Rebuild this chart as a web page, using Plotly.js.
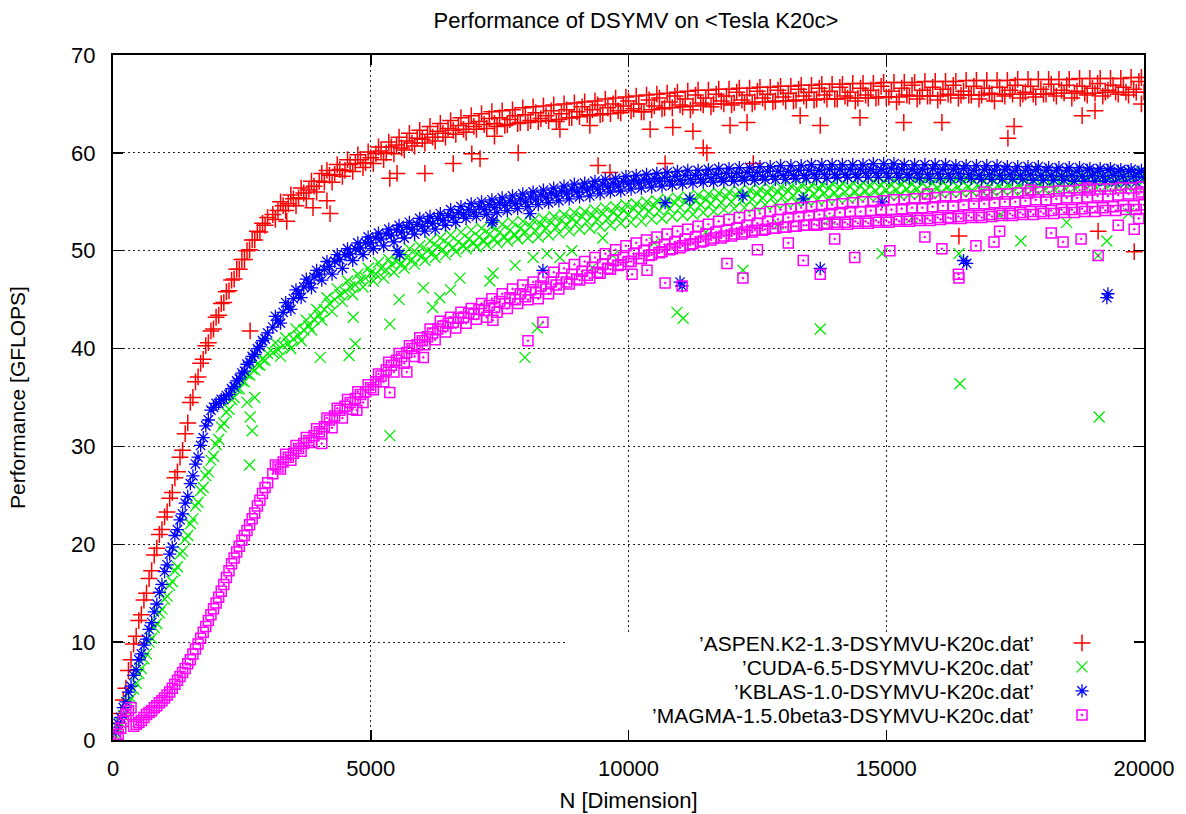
<!DOCTYPE html>
<html>
<head>
<meta charset="utf-8">
<script src="https://cdn.plot.ly/plotly-3.0.1.min.js"></script>
<style>html,body{margin:0;padding:0;background:#fff;}#chart{width:1186px;height:814px;}</style>
</head>
<body>
<div id="chart"></div>
<script>
// Matrix dimension N (first sample grid)
const N = [
  50,100,150,200,250,300,350,400,450,500,
  550,600,650,700,750,800,850,900,950,1000,
  1050,1100,1150,1200,1250,1300,1350,1400,1450,1500,
  1550,1600,1650,1700,1750,1800,1850,1900,1950,2000,
  2050,2100,2150,2200,2250,2300,2350,2400,2450,2500,
  2550,2600,2650,2700,2750,2800,2850,2900,2950,3000,
  3100,3200,3300,3400,3500,3600,3700,3800,3900,4000,
  4100,4200,4300,4400,4500,4600,4700,4800,4900,5000,
  5100,5200,5300,5400,5500,5600,5700,5800,5900,6000,
  6100,6200,6300,6400,6500,6600,6700,6800,6900,7000,
  7100,7200,7300,7400,7500,7600,7700,7800,7900,8000,
  8100,8200,8300,8400,8500,8600,8700,8800,8900,9000,
  9100,9200,9300,9400,9500,9600,9700,9800,9900,10000,
  10100,10200,10300,10400,10500,10600,10700,10800,10900,11000,
  11100,11200,11300,11400,11500,11600,11700,11800,11900,12000,
  12100,12200,12300,12400,12500,12600,12700,12800,12900,13000,
  13100,13200,13300,13400,13500,13600,13700,13800,13900,14000,
  14100,14200,14300,14400,14500,14600,14700,14800,14900,15000,
  15100,15200,15300,15400,15500,15600,15700,15800,15900,16000,
  16100,16200,16300,16400,16500,16600,16700,16800,16900,17000,
  17100,17200,17300,17400,17500,17600,17700,17800,17900,18000,
  18100,18200,18300,18400,18500,18600,18700,18800,18900,19000,
  19100,19200,19300,19400,19500,19600,19700,19800,19900,20000
];
// Second, interleaved sample grid
const N2 = [
  3150,3250,3350,3450,3550,3650,3750,3850,3950,4050,
  4150,4250,4350,4450,4550,4650,4750,4850,4950,5050,
  5150,5250,5350,5450,5550,5650,5750,5850,5950,6050,
  6150,6250,6350,6450,6550,6650,6750,6850,6950,7050,
  7150,7250,7350,7450,7550,7650,7750,7850,7950,8050,
  8150,8250,8350,8450,8550,8650,8750,8850,8950,9050,
  9150,9250,9350,9450,9550,9650,9750,9850,9950,10050,
  10150,10250,10350,10450,10550,10650,10750,10850,10950,11050,
  11150,11250,11350,11450,11550,11650,11750,11850,11950,12050,
  12150,12250,12350,12450,12550,12650,12750,12850,12950,13050,
  13150,13250,13350,13450,13550,13650,13750,13850,13950,14050,
  14150,14250,14350,14450,14550,14650,14750,14850,14950,15050,
  15150,15250,15350,15450,15550,15650,15750,15850,15950,16050,
  16150,16250,16350,16450,16550,16650,16750,16850,16950,17050,
  17150,17250,17350,17450,17550,17650,17750,17850,17950,18050,
  18150,18250,18350,18450,18550,18650,18750,18850,18950,19050,
  19150,19250,19350,19450,19550,19650,19750,19850,19950
];

// GFLOPS per series at N
const aspen = [
  0.8,1.7,2.7,4.1,5.3,7.1,8.2,9.8,10.6,12.2,
  12.8,14.3,15.0,16.5,17.3,18.9,19.6,21.0,21.5,22.8,
  23.3,24.7,25.3,26.8,27.4,28.9,29.6,31.3,32.4,34.5,
  35.0,36.6,37.1,38.5,38.9,40.3,40.6,41.8,42.0,43.2,
  43.4,44.6,44.7,45.8,45.9,47.0,47.1,48.1,48.1,49.1,
  49.1,50.0,50.1,51.1,51.1,52.0,51.9,52.8,52.6,53.4,
  53.7,54.1,54.6,54.8,55.3,55.4,55.9,56.2,56.6,57.1,
  57.0,57.7,57.8,58.3,58.2,58.8,58.9,59.3,59.0,59.5,
  59.9,60.2,60.0,60.6,60.8,60.5,61.2,61.0,61.5,61.4,
  61.9,61.6,62.2,62.0,62.5,62.3,62.8,62.4,63.0,62.7,
  63.2,62.9,63.5,63.0,63.6,62.8,63.4,63.8,63.1,63.9,
  63.3,64.1,63.5,63.8,64.3,63.2,64.0,64.4,63.6,64.2,
  64.7,63.9,64.4,64.9,64.0,64.6,65.0,64.3,64.8,65.3,
  64.5,65.0,64.2,65.4,64.8,65.6,64.6,65.2,65.8,64.9,
  65.5,64.4,65.9,65.1,65.6,64.7,66.0,65.3,65.8,64.9,
  66.2,65.4,65.9,65.0,66.3,65.6,66.0,65.2,66.4,65.7,
  66.1,65.3,66.5,65.8,66.2,65.4,66.6,65.9,66.3,65.5,
  66.7,65.8,66.2,65.3,66.6,65.9,66.4,65.6,66.8,65.7,
  66.3,65.2,66.6,65.9,66.9,65.5,66.4,65.8,66.7,65.4,
  66.5,66.0,66.9,65.6,66.3,65.9,66.8,65.5,66.6,66.1,
  65.3,66.7,65.8,66.4,66.9,65.6,66.2,66.8,65.7,66.5,
  66.0,67.0,65.8,66.4,66.9,65.6,66.3,66.8,65.9,66.6,
  67.1,65.8,66.4,66.9,66.0,66.7,65.9,66.5,67.3,66.2
];
const aspen2 = [
  53.2,55.0,54.1,55.7,54.6,56.4,55.3,57.1,56.0,57.9,
  58.2,57.0,58.8,57.6,59.3,58.1,59.8,58.5,60.1,58.9,
  60.6,59.3,61.1,59.9,61.6,60.3,62.0,60.7,62.3,61.0,
  62.7,61.2,63.0,61.6,63.3,61.9,63.6,62.1,63.8,62.4,
  64.0,62.5,64.2,62.7,64.3,62.9,64.4,63.0,64.6,63.1,
  64.7,63.2,64.8,63.3,64.9,63.4,65.0,63.6,65.1,63.7,
  65.2,63.8,65.3,63.9,65.5,64.0,65.6,64.1,65.7,64.3,
  65.8,64.2,65.9,64.4,66.0,64.5,66.1,64.6,66.2,64.7,
  66.3,64.8,66.4,64.9,66.4,65.0,66.5,65.0,66.5,65.1,
  66.6,65.1,66.6,65.2,66.7,65.2,66.7,65.3,66.8,65.3,
  66.8,65.4,66.9,65.4,66.9,65.5,67.0,65.5,67.0,65.5,
  67.0,65.6,67.1,65.6,67.1,65.6,67.1,65.7,67.2,65.7,
  67.2,65.7,67.2,65.8,67.2,65.8,67.3,65.8,67.3,65.8,
  67.3,65.9,67.3,65.9,67.4,65.9,67.4,65.9,67.4,66.0,
  67.4,66.0,67.4,66.0,67.5,66.0,67.5,66.0,67.5,66.0,
  67.5,66.1,67.5,66.1,67.5,66.1,67.6,66.1,67.6,66.1,
  67.6,66.2,67.6,66.2,67.6,66.2,67.7,66.2,67.7
];
const cuda = [
  0.5,1.2,1.7,2.5,3.0,3.9,4.3,5.2,5.8,6.8,
  7.3,8.3,8.8,10.0,10.4,11.5,11.9,13.0,13.4,14.4,
  14.7,15.8,16.2,17.3,17.7,19.0,19.3,20.5,20.9,22.1,
  22.6,23.9,24.3,25.5,25.8,27.0,27.4,28.6,29.0,30.2,
  30.7,32.0,32.4,33.5,33.8,34.8,35.0,35.9,35.9,36.7,
  36.6,37.4,37.3,37.9,37.8,38.4,38.3,38.9,38.8,39.5,
  39.6,39.9,40.3,40.5,41.0,41.3,41.9,42.3,43.0,43.4,
  44.0,44.6,45.0,45.5,45.8,46.3,46.5,47.0,47.2,47.7,
  47.6,48.2,48.0,48.6,48.9,48.7,49.3,49.1,49.7,49.5,
  50.0,49.8,50.4,50.1,50.7,50.3,50.9,50.5,51.2,50.8,
  51.4,51.0,51.7,51.2,51.9,51.4,52.1,51.6,52.3,51.9,
  52.5,52.0,52.7,52.3,52.9,52.4,53.1,52.6,53.3,52.9,
  53.5,53.0,53.6,53.2,53.8,53.3,53.9,53.5,54.1,53.7,
  54.3,53.8,54.4,54.0,54.6,54.1,54.7,54.3,54.9,54.4,
  55.0,54.5,55.1,54.7,55.2,54.8,55.4,54.9,55.5,55.0,
  55.6,55.1,55.7,55.3,55.8,55.4,55.9,55.5,56.0,55.6,
  56.1,55.6,56.2,55.7,56.3,55.8,56.3,55.9,56.4,55.9,
  56.5,56.0,56.5,56.0,56.6,56.1,56.6,56.1,56.7,56.2,
  56.7,56.2,56.8,56.3,56.8,56.3,56.9,56.4,56.9,56.4,
  57.0,56.5,57.0,56.5,57.0,56.5,57.1,56.6,57.1,56.6,
  57.1,56.6,57.2,56.7,57.2,56.7,57.2,56.7,57.3,56.8,
  57.3,56.8,57.3,56.8,57.4,56.9,57.4,56.9,57.4,56.9,
  57.5,57.0,57.5,57.0,57.5,57.0,57.6,57.1,57.6,57.2
];
const cuda2 = [
  40.6,39.2,41.1,40.0,42.0,40.8,42.9,41.9,44.0,42.9,
  45.2,43.8,46.1,44.8,46.9,45.5,47.6,46.3,48.2,46.9,
  48.8,47.2,49.1,47.8,49.7,48.2,50.2,48.6,50.5,49.0,
  51.0,49.3,51.3,49.6,51.6,49.9,51.9,50.2,52.1,50.4,
  52.3,50.6,52.5,50.8,52.7,51.0,52.9,51.2,53.0,51.3,
  53.1,51.4,53.3,51.6,53.5,51.8,53.7,52.0,53.9,52.2,
  54.0,52.3,54.2,52.5,54.4,52.6,54.5,52.8,54.7,52.9,
  54.8,53.0,55.0,53.2,55.1,53.3,55.3,53.5,55.4,53.6,
  55.5,53.7,55.7,53.9,55.8,54.0,55.9,54.2,56.0,54.3,
  56.1,54.4,56.2,54.5,56.3,54.7,56.4,54.8,56.5,54.9,
  56.6,55.0,56.7,55.1,56.7,55.2,56.8,55.3,56.9,55.4,
  56.9,55.4,57.0,55.5,57.0,55.6,57.1,55.6,57.1,55.7,
  57.2,55.7,57.2,55.8,57.3,55.8,57.3,55.9,57.3,55.9,
  57.4,56.0,57.4,56.0,57.4,56.1,57.5,56.1,57.5,56.1,
  57.5,56.2,57.6,56.2,57.6,56.2,57.6,56.3,57.6,56.3,
  57.7,56.3,57.7,56.4,57.7,56.4,57.8,56.4,57.8,56.5,
  57.8,56.5,57.9,56.5,57.9,56.6,57.9,56.6,58.0
];
const kblas = [
  0.8,1.7,2.3,3.3,3.9,4.9,5.5,6.6,7.2,8.2,
  8.8,9.7,10.3,11.3,12.0,13.1,13.9,15.1,15.9,17.2,
  17.9,19.0,19.7,20.9,21.5,22.5,23.1,24.2,24.9,26.2,
  27.0,28.2,28.9,30.1,30.9,32.1,32.7,33.7,34.0,34.4,
  34.4,34.8,34.8,35.2,35.3,35.9,36.1,36.7,36.9,37.5,
  37.7,38.4,38.6,39.2,39.4,40.0,40.2,40.8,41.0,41.6,
  42.2,42.9,43.7,44.3,45.1,45.6,46.3,46.7,47.3,47.6,
  48.1,48.4,48.9,49.1,49.6,49.7,50.2,50.3,50.8,50.8,
  51.3,51.2,51.7,51.6,52.1,51.9,52.4,52.2,52.7,52.5,
  53.0,52.8,53.3,53.1,53.6,53.4,53.9,53.7,54.2,53.9,
  54.5,54.2,54.7,54.4,54.9,54.6,55.1,54.8,55.3,55.0,
  55.5,55.2,55.7,55.4,55.9,55.6,56.1,55.8,56.3,56.0,
  56.5,56.2,56.6,56.3,56.8,56.5,56.9,56.6,57.1,56.8,
  57.2,56.9,57.3,57.0,57.4,57.1,57.5,57.1,57.6,57.2,
  57.7,57.3,57.7,57.3,57.8,57.4,57.8,57.4,57.9,57.5,
  57.9,57.5,58.0,57.6,58.0,57.6,58.1,57.6,58.1,57.7,
  58.1,57.7,58.2,57.7,58.2,57.8,58.2,57.8,58.3,57.8,
  58.3,57.8,58.3,57.8,58.3,57.9,58.3,57.9,58.3,57.9,
  58.4,57.9,58.3,57.8,58.3,57.9,58.3,57.8,58.4,57.9,
  58.3,57.8,58.3,57.9,58.4,57.8,58.2,57.7,58.3,57.8,
  58.2,57.7,58.3,57.8,58.2,57.7,58.2,57.8,58.3,57.7,
  58.2,57.7,58.2,57.6,58.2,57.7,58.1,57.6,58.2,57.7,
  58.1,57.6,58.2,57.7,58.1,57.6,58.1,57.6,58.0,57.5
];
const kblas2 = [
  43.3,42.6,44.7,44.0,46.0,45.2,47.1,46.2,48.0,47.0,
  48.9,47.6,49.6,48.2,50.2,49.0,50.8,49.6,51.4,50.2,
  51.8,50.5,52.2,50.9,52.6,51.3,52.9,51.7,53.3,52.0,
  53.5,52.2,53.8,52.6,54.2,52.9,54.5,53.3,54.8,53.5,
  55.0,53.7,55.2,53.9,55.4,54.1,55.6,54.3,55.8,54.5,
  56.0,54.7,56.2,54.9,56.4,55.1,56.6,55.3,56.8,55.5,
  56.9,55.6,57.1,55.8,57.3,56.0,57.4,56.1,57.6,56.3,
  57.7,56.4,57.8,56.5,57.9,56.6,58.0,56.7,58.1,56.8,
  58.2,56.9,58.2,57.0,58.3,57.0,58.4,57.1,58.4,57.1,
  58.5,57.2,58.5,57.2,58.6,57.3,58.6,57.3,58.7,57.3,
  58.7,57.4,58.7,57.4,58.8,57.4,58.8,57.4,58.8,57.5,
  58.8,57.5,58.8,57.5,58.8,57.5,58.9,57.5,58.9,57.5,
  58.9,57.5,58.8,57.5,58.8,57.4,58.8,57.4,58.8,57.4,
  58.8,57.4,58.7,57.4,58.7,57.4,58.7,57.3,58.7,57.3,
  58.7,57.3,58.6,57.3,58.6,57.3,58.6,57.2,58.6,57.2,
  58.5,57.2,58.5,57.2,58.5,57.1,58.5,57.1,58.4,57.1,
  58.4,57.1,58.4,57.0,58.3,57.0,58.3,57.0,58.2
];
const magma = [
  0.3,0.6,1.2,1.9,2.6,3.0,3.3,1.4,1.6,1.8,
  2.0,2.3,2.6,2.8,3.0,3.3,3.5,3.8,4.0,4.3,
  4.6,4.9,5.3,5.7,6.1,6.5,6.9,7.3,7.8,8.2,
  8.8,9.3,9.8,10.4,11.0,11.6,12.2,12.8,13.4,14.0,
  14.6,15.2,15.9,16.6,17.3,18.0,18.6,19.2,19.8,20.4,
  20.9,21.4,22.0,22.6,23.2,23.9,24.5,25.2,25.8,26.3,
  27.2,27.9,28.4,28.9,29.3,29.8,30.3,30.6,31.1,31.5,
  32.0,32.7,33.1,33.7,34.1,34.5,34.9,35.3,35.6,36.0,
  36.6,37.2,37.8,38.3,38.8,39.2,39.6,40.0,40.4,40.8,
  41.2,41.6,42.0,42.3,42.6,42.7,43.1,43.2,43.6,43.5,
  44.0,43.9,44.4,44.2,44.8,44.6,45.2,45.0,45.6,45.3,
  46.0,45.7,46.4,46.1,46.8,46.5,47.2,46.8,47.6,47.1,
  47.9,47.5,48.3,47.8,48.6,48.2,49.0,48.5,49.3,48.9,
  49.7,49.2,50.0,49.5,50.3,49.8,50.6,50.1,50.9,50.3,
  51.2,50.6,51.4,50.9,51.7,51.1,51.9,51.3,52.1,51.5,
  52.3,51.7,52.6,51.9,52.8,52.1,53.0,52.3,53.2,52.4,
  53.4,52.5,53.5,52.6,53.6,52.7,53.7,52.8,53.8,52.9,
  53.9,52.9,54.0,53.0,54.0,53.0,54.1,53.1,54.2,53.1,
  54.2,53.2,54.3,53.2,54.4,53.3,54.4,53.3,54.5,53.4,
  54.6,53.4,54.6,53.5,54.7,53.6,54.8,53.6,54.8,53.7,
  54.9,53.8,55.0,53.8,55.0,53.9,55.1,54.0,55.2,54.0,
  55.2,54.1,55.3,54.2,55.4,54.2,55.4,54.3,55.5,54.4,
  55.6,54.4,55.6,54.5,55.7,54.6,55.8,54.6,55.8,54.7
];
const magma2 = [
  28.1,27.7,29.2,28.6,30.1,29.5,30.9,30.4,31.8,31.3,
  32.9,31.9,33.9,32.9,34.8,33.8,35.6,34.5,36.3,35.8,
  37.4,36.6,38.6,37.6,39.5,38.5,40.3,39.2,41.1,40.4,
  42.0,40.9,42.8,41.7,43.2,42.1,43.7,42.6,44.1,43.0,
  44.6,43.2,45.1,43.7,45.6,44.1,46.1,44.6,46.5,45.0,
  46.8,45.1,47.3,45.6,47.8,46.1,48.2,46.6,48.6,47.0,
  48.9,47.2,49.3,47.7,49.7,48.1,50.1,48.6,50.5,48.9,
  50.8,49.2,51.1,49.6,51.4,49.9,51.7,50.2,52.0,50.5,
  52.2,50.7,52.5,51.0,52.7,51.3,53.0,51.5,53.2,51.7,
  53.4,51.9,53.6,52.1,53.8,52.2,54.0,52.3,54.2,52.4,
  54.3,52.5,54.4,52.6,54.5,52.6,54.6,52.7,54.7,52.7,
  54.8,52.7,54.9,52.8,55.0,52.8,55.0,52.9,55.1,52.9,
  55.2,53.0,55.2,53.0,55.3,53.1,55.3,53.1,55.4,53.2,
  55.5,53.3,55.5,53.3,55.6,53.4,55.6,53.4,55.7,53.5,
  55.8,53.6,55.8,53.6,55.9,53.7,55.9,53.7,56.0,53.8,
  56.0,53.8,56.1,53.9,56.1,53.9,56.2,54.0,56.2,54.0,
  56.3,54.1,56.3,54.1,56.4,54.2,56.4,54.2,56.5
];

// Scattered runs away from the main band (N, GFLOPS)
const aspenOutN = [2660,3370,3880,4150,4210,5370,5510,6050,6600,6960,7120,7400,7860,8670,9250,9410,9640,10420,10710,10860,11250,11450,11520,11970,12300,12420,13330,13720,14490,15340,16080,16410,17360,17480,18800,19050,19110,19810,19950];
const aspenOutV = [41.8,53.0,54.4,55.1,53.8,57.4,57.9,57.9,58.9,59.9,59.4,61.7,60.0,62.4,62.8,58.7,58.0,62.4,58.9,62.6,62.2,60.5,60.0,62.8,63.1,58.9,63.8,62.8,63.6,63.1,63.1,51.5,61.5,62.7,63.8,64.3,52.0,49.9,65.0];
const cudaOutN = [2600,2650,2660,2700,2750,4020,4580,4660,4700,5370,5370,5550,6020,6200,6340,6550,6730,7310,7370,7800,7990,8150,8230,8420,8670,8900,9300,9500,9700,10500,10940,11060,11500,12220,12900,13720,13900,14920,15500,16410,16430,17200,17610,18500,19110,19130,19280,19700];
const cudaOutV = [34.5,28.1,33.0,31.6,35.0,39.1,39.3,43.2,40.5,31.1,42.5,45.0,46.2,44.2,45.2,46.0,47.2,46.9,47.7,48.5,39.1,49.3,42.1,49.7,49.3,50.0,48.3,51.3,49.5,50.8,43.7,43.1,51.9,48.0,52.7,42.0,53.2,49.7,53.4,49.7,36.4,53.6,51.0,52.9,49.5,33.0,51.0,53.8];
const kblasOutN = [5510,5560,7350,7370,8090,8340,10710,11000,11040,11190,12220,13390,13720,14920,16500,16560,19280,19300];
const kblasOutV = [50.0,49.6,52.9,53.1,53.8,48.0,54.9,46.8,46.4,55.3,55.6,55.3,48.2,55.0,49.0,48.7,45.2,45.6];
const magmaOutN = [4050,4730,5370,5700,6020,7370,8050,8340,10070,10360,10710,11040,11910,12220,12500,13100,13390,13720,14000,14390,15070,15750,15800,16080,16400,16410,16740,16900,17090,17200,17800,18200,18430,18780,18900,19110,19500,19810,19900,19950];
const magmaOutV = [30.3,33.7,35.5,37.6,39.1,42.9,40.8,42.7,47.6,48.0,46.7,46.4,48.7,47.2,50.1,50.8,49.0,47.6,51.2,49.3,50.0,51.4,55.8,50.2,47.6,47.2,50.5,56.0,50.9,52.0,56.2,51.8,50.9,51.2,56.4,49.5,52.6,52.2,53.3,56.0];

const seriesNames = [
  "’ASPEN.K2-1.3-DSYMVU-K20c.dat’",
  "’CUDA-6.5-DSYMVU-K20c.dat’",
  "’KBLAS-1.0-DSYMVU-K20c.dat’",
  "’MAGMA-1.5.0beta3-DSYMVU-K20c.dat’"
];
const xTickVals = [0, 5000, 10000, 15000, 20000];
const xTickText = ['0', '5000', '10000', '15000', '20000'];
const yTickVals = [0, 10, 20, 30, 40, 50, 60, 70];

const series = [
  {y: aspen, y2: aspen2, on: aspenOutN, ov: aspenOutV, color: '#ff0000', symbol: 'cross-thin-open', size: 12, lw: 1.5},
  {y: cuda,  y2: cuda2,  on: cudaOutN,  ov: cudaOutV,  color: '#00ee00', symbol: 'x-thin-open', size: 11, lw: 1.3},
  {y: kblas, y2: kblas2, on: kblasOutN, ov: kblasOutV, color: '#0000ff', symbol: 'asterisk-open', size: 11, lw: 1.3},
  {y: magma, y2: magma2, on: magmaOutN, ov: magmaOutV, color: '#ff00ff', symbol: 'square-open-dot', size: 10, lw: 1.5}
];

const legendIds = ['legend', 'legend2', 'legend3', 'legend4'];
const rowPx = [643, 667, 691, 715];   // legend row centres (px from top)
const plotTop = 55, plotH = 685, plotL = 113, plotW = 1031;
const rowY = rowPx.map(p => (plotTop + plotH - p) / plotH);

const traces = series.map((s, i) => ({
  type: 'scatter',
  mode: 'markers',
  x: N.concat(N2, s.on),
  y: s.y.concat(s.y2, s.ov),
  name: ' ',
  legend: legendIds[i],
  hoverinfo: 'x+y',
  marker: {symbol: s.symbol, size: s.size, color: s.color, line: {color: s.color, width: s.lw}}
}));

const annotations = seriesNames.map((t, i) => ({
  text: t, xref: 'paper', yref: 'paper', x: (1035 - plotL) / plotW, y: rowY[i],
  xanchor: 'right', yanchor: 'middle', showarrow: false, borderpad: 0,
  font: {family: 'Liberation Sans, Arial, sans-serif', size: 21, color: '#000'}
}));

series.forEach((s, i) => {
  if (s.y.length !== N.length || s.y2.length !== N2.length) {
    annotations.push({text: 'length mismatch ' + i + ': ' + s.y.length + '/' + s.y2.length, xref: 'paper', yref: 'paper', x: 0.3, y: 0.5 - i * 0.05, showarrow: false, font: {color: 'red'}});
  }
});

const legendBase = {
  xanchor: 'left', yanchor: 'middle', bgcolor: 'rgba(0,0,0,0)', borderwidth: 0,
  font: {size: 16}, itemwidth: 30
};
const layout = {
  width: 1186, height: 814,
  margin: {l: 113, r: 42, t: 55, b: 74},
  paper_bgcolor: '#fff', plot_bgcolor: '#fff',
  font: {family: 'Liberation Sans, Arial, sans-serif', size: 22, color: '#000'},
  showlegend: true,
  title: {text: 'Performance of DSYMV on &lt;Tesla K20c&gt;', x: (636 - plotL) / plotW, xref: 'paper', xanchor: 'center',
          y: 1 - 20 / 814, yref: 'container', yanchor: 'middle', font: {size: 22}},
  xaxis: {
    range: [0, 20000], tickvals: xTickVals, ticktext: xTickText,
    ticks: 'inside', ticklen: 10, tickwidth: 1.5, tickcolor: '#000',
    showline: true, linewidth: 2, linecolor: '#000', mirror: 'ticks',
    showgrid: true, gridcolor: '#222', gridwidth: 1, griddash: '2px,3px',
    zeroline: false, ticklabelstandoff: 8,
    title: {text: 'N [Dimension]', standoff: 12, font: {size: 22}}
  },
  yaxis: {
    range: [0, 70], tickvals: yTickVals,
    ticks: 'inside', ticklen: 10, tickwidth: 1.5, tickcolor: '#000',
    showline: true, linewidth: 2, linecolor: '#000', mirror: 'ticks',
    showgrid: true, gridcolor: '#222', gridwidth: 1, griddash: '2px,3px',
    zeroline: false, ticklabelstandoff: 11,
    title: {text: 'Performance [GFLOPS]', standoff: 40, font: {size: 21}}
  },
  shapes: [{
    type: 'rect', layer: 'between', xref: 'x', yref: 'y',
    x0: 8770, x1: 20000, y0: 0, y1: 10.8,
    fillcolor: '#fff', line: {width: 0}
  }],
  annotations: annotations
};
legendIds.forEach((id, i) => {
  layout[id] = Object.assign({}, legendBase, {x: (1062 - plotL) / plotW, y: rowY[i]});
});

Plotly.newPlot('chart', traces, layout, {staticPlot: true, displayModeBar: false});
</script>
</body>
</html>
